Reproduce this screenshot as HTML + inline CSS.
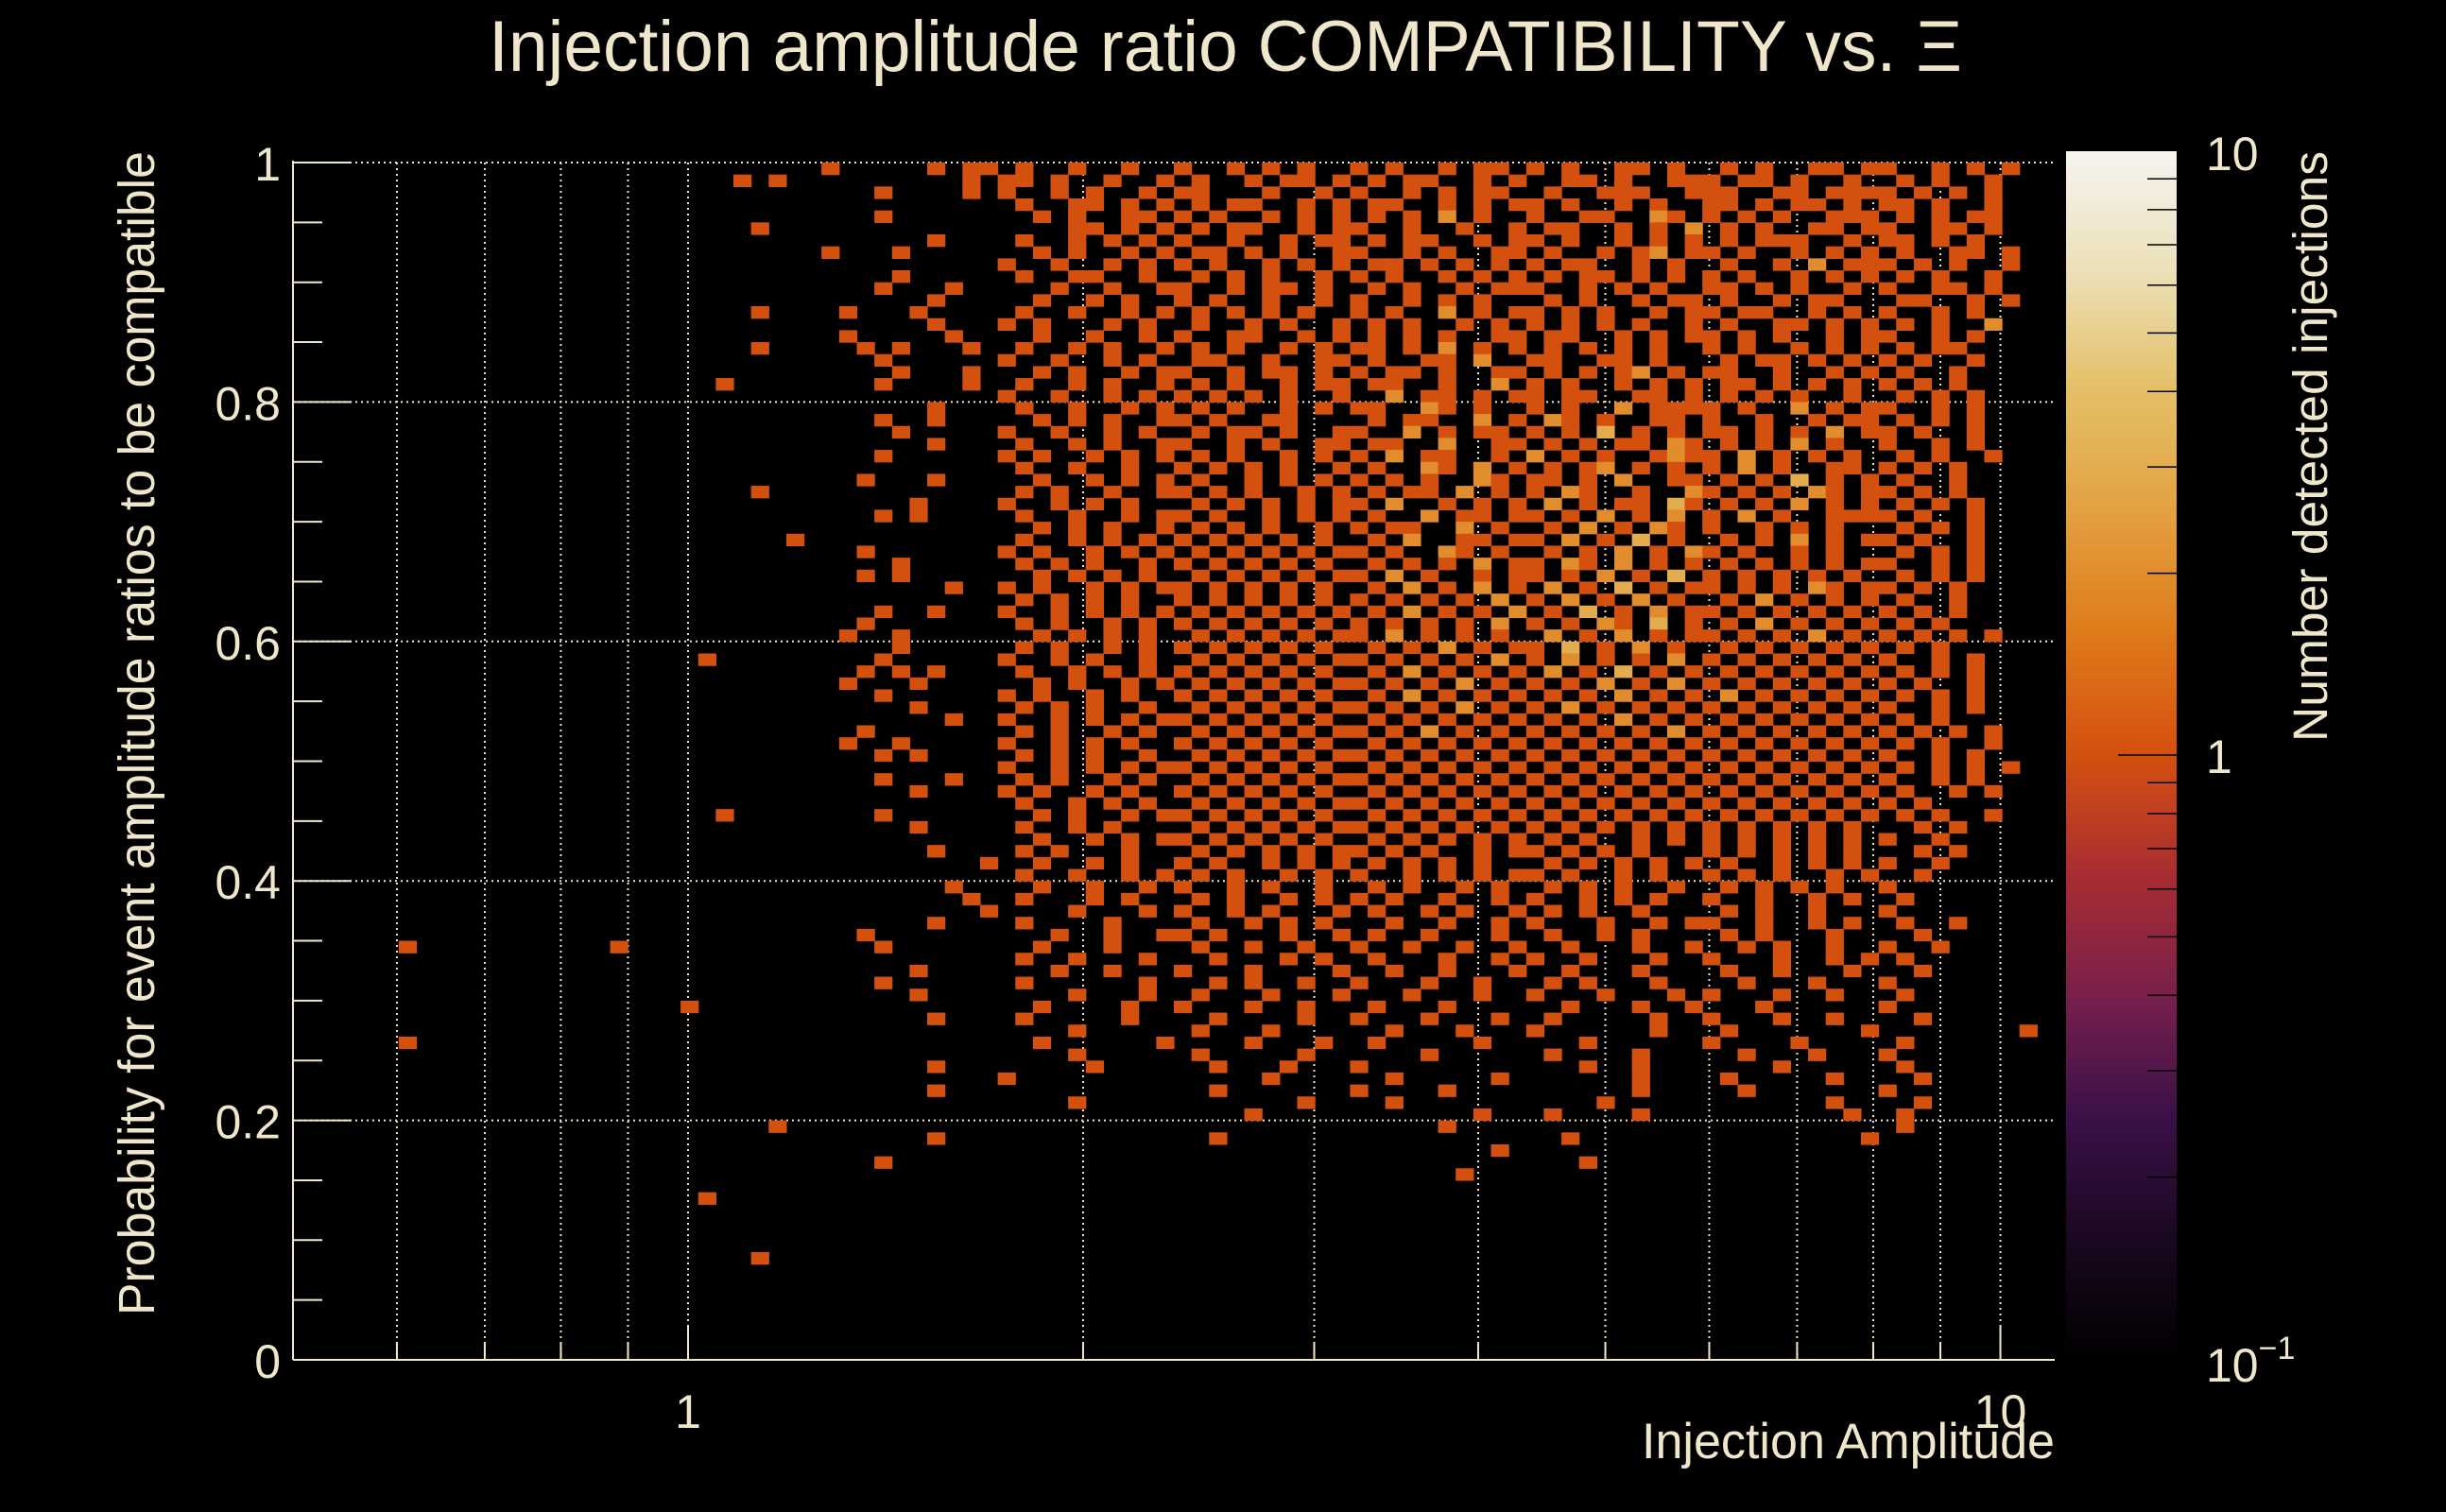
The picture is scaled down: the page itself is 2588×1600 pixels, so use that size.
<!DOCTYPE html>
<html><head><meta charset="utf-8"><style>
html,body{margin:0;padding:0;background:#000;}
svg{display:block;}
text{font-family:"Liberation Sans",sans-serif;fill:#f0e6cc;}
</style></head><body>
<svg id="chart" width="2588" height="1600" viewBox="0 0 2588 1600" xmlns="http://www.w3.org/2000/svg">
<rect width="2588" height="1600" fill="#000"/>
<text x="517" y="75" font-size="76" textLength="1559" lengthAdjust="spacingAndGlyphs">Injection amplitude ratio COMPATIBILITY vs.  Ξ</text>
<text transform="translate(163,1392) rotate(-90)" font-size="54" textLength="1232" lengthAdjust="spacingAndGlyphs">Probability for event amplitude ratios to be compatible</text>
<text x="2174" y="1543" font-size="53" text-anchor="end" textLength="437" lengthAdjust="spacingAndGlyphs">Injection Amplitude</text>
<text transform="translate(2462,785) rotate(-90)" font-size="51" textLength="625" lengthAdjust="spacingAndGlyphs">Number detected injections</text>
<g id="grid"></g>
<g id="cells"></g>
<g id="axes"></g>
<g id="cbar"></g>
</svg>
<script>
// ---- data ----
const xMin = 0.5, xMax = 11.0, nX = 100;
const yMin = 0, yMax = 1, nY = 100;
const zMin = 0.1, zMax = 10;
const yTicks = [0, 0.2, 0.4, 0.6, 0.8, 1];
const yTickLabels = ["0", "0.2", "0.4", "0.6", "0.8", "1"];
const xGrid = [0.6, 0.7, 0.8, 0.9, 1, 2, 3, 4, 5, 6, 7, 8, 9, 10];
const xTickLabels = [[1, "1"], [10, "10"]];
// counts per bin, rows from top (y=1) to bottom (y=0), columns from x=0.5 to 11 (log bins)
const rows = [
".......... .......... .......... 1.....1.11 .1..1..1.. 1..1.1.1.. 1.1..1.11. 1.1..11.1. .1.1..11.1 1..1.1.1..",
".......... .......... .....1.1.. ........1. 11.1..1..1 .1..1.11.1 .1.11..1.1 ..11.1..11 1.11.1..1. .1.1..1...",
".......... .......... .......... ...1....1. 1..1.1..1. 11...1..1. 1..1.1.11. .1..111..1 11..11.111 1.1.1.1...",
".......... .......... .......... .......... .1..11.1.1 .1.11..1.1 .11..1.1.1 1.1..1.1.. 11.1.11.1. 11.1..1...",
".......... .......... .......... ...1...... ..1.1..11. 1.1..1.1.1 .1.1.2.1.. 1..11..21. 1.1.1..111 .1.1.11...",
".......... .......... ......1... .......... ....11.1.1 .1.11..1.1 1..1..1..1 .11..1.1.2 .1.1..11.1 1..11.1...",
".......... .......... .......... ......1... .1..1.1.1. 1..1..1.11 .1.11..1.1 1.1..1.1.1 .1.111..1. 11.1.1....",
".......... .......... .......... 1...1..... ..1.1..1.1 .11.1.1..1 1..1.1..11 .1..1.12.1 1.1..1.1.1 .1..11.1..",
".......... .......... .......... .......... 1..1..1.1. 1.1..1.1.1 .11.1.1.1. 1.11..1.1. .1..1.2.11 1.1.1..1..",
".......... .......... .......... ....1..... .1..11..1. .1.1.1..1. 1.1..1.1.1 .1.11.1.1. 1.1..1.1.1 .1.1..1...",
".......... .......... .......... ...1...1.. ...1..1..1 1..1.11.1. .1.1..1.11 1..1.1.1.. 11.1.1..1. 1..11.1...",
".......... .......... .......... ......1... ..1..1.1.. 1.1..1..1. 1..1.1.1.. .1.1..1.11 .1..1.11.. .11..1.1..",
".......... .......... ......1... .1...1.... .1..1..1.1 .1.1.1.1.. 1.1..2.1.1 1.1.1..1.1 1.11..1.1. 1..1.1....",
".......... .......... .......... ......1... 1.1...1.1. .1..1.1..1 .1.1..1.1. 1.1.1.1..1 .1..11.1.1 .1.1..2...",
".......... .......... .......... .1.....1.. ..1..1..1. 1..11..1.1 .1.1.1..11 .11..1.1.1 1.1.1..1.1 1..1.1....",
".......... .......... ......1... ..1.1...1. .1..1.1..1 .1.1..1.1. 11.1.2.1.1 .1.1.1.1.. 1.1..1.1.1 .1.11.....",
".......... .......... .......... ...1...... 1..1..1.1. .11..1..11 .1..11.2.. 11..11.1.. .1.11.1.1. 1.1..1....",
".......... .......... .......... ....1...1. ..1.1..1.1 1..1.11.1. 1.11.1..11 .1.1.12.1. 11..1..1.1 .1..1.....",
".......... .......... ....1..... ...1....1. .1..1.1..1 .1.1..1.11 .11..1..2. 1.1..1.1.1 .11.1.1.1. 1.1.1.....",
".......... .......... .......... .......... 1..1..1.1. 1.1.1.1..1 ..2.11.1.1 1.11..11.1 .1.1.1..1. .1.1.1....",
".......... .......... .......... ......1... .1..1..1.1 .1.1..1.1. 11..21.1.. 1.1..2.111 1.1..2.1.1 1..1.1....",
".......... .......... .......... ...1..1... ..1.1.1..1 1.1..11... .1.11..2.1 .21.1..11. 1..1..1.11 .1.1.1....",
".......... .......... .......... ....1..... 1..1..1.1. .1.11.1..1 1..2.1.11. 1.1.3.1.1. 11.1.1.2.1 1.1..1....",
".......... .......... .......... ......1... .1..1.1..1 1..1.1..11 .11..2..11 .1.1.11.21 .1.1.2.1.. 1..1.1....",
".......... .......... .......... ...1...... 1.1..1.1.1 .1.1..1.1. 1.2.11..1. 2.1.1..121 1.2.1.1.1. .1.1..1...",
".......... .......... .......... .......... .1..1..1.. 1.1.1.1..1 .1..21.2.1 .1.12.1.1. 1.2.1..11. 1.1.1.....",
".......... .......... .......... ..1...1... ..1..1.1.1 .1..1.1.1. 1.1.1..21. 11.1.2..11 .1.1.3.1.1 .1..1.....",
".......... .......... ......1... .......... .1.1..1..1 1.1.1..1.1 .1.11.2.1. 1.21..1..2 1.1.1.21.1 1.1.1.....",
".......... .......... .......... .....1.... 1..1.1.1.. .1.1.1.1.1 1.2..1.1.1 .2.1.11.31 .1.1.2.1.1 .1.1.1....",
".......... .......... .......... ...1.1.... .1..1..1.1 1.1..1.1.1 .1..2.11.1 1.1.2.1.2. 1.2.1..111 1.1..1....",
".......... .......... .......... .......... ..1.1.1..1 .1.1.1..1. 1.11..2.1. .1.2.1.21. 1..1.1.1.. .1.1.1....",
".......... .......... ........1. .......... .1..1.1.1. 1.1.1.1.1. .1.2..11.1 1.2.1.3.1. .1.1.2.1.1 1.1..1....",
".......... .......... .......... ..1....... 1.1..1.1.1 .1.1.1.1.1 1.1..21.1. .1.1.2.1.2 1.1..1.1.. .1.1.1....",
".......... .......... .......... ....1..... .1.1.1..1. 1.1.1.1.1. .1.1.1.2.1 1.21.2.1.1 .1.1.1.1.1 1..1.1....",
".......... .......... .......... ..1.1..... ..1.1.1.1. .1.1.1.1.1 1.2.1..1.1 1.1.2.1.3. 1.1.1.1.1. .1.1.1....",
".......... .......... .......... .......1.. 1.1..1.1.1 1.1.1.1.1. .1.2.1.2.1 .2.1.3.1.1 1.1.1.21.1 1.1.1.....",
".......... .......... .......... .......... .1.1.1.1.. 1.1.1.1.1. 1.1.1.1.2. 1.2.1.2.1. .1.2.1.1.1 .1..1.....",
".......... .......... .......... ...1..1... 1..1.1.1.1 .1.1.1.1.1 .1.2.1.1.2 .1.3.1.2.1 1.1.1.1.1. 1.1.1.....",
".......... .......... .......... ..1....... .1.1..1.1. 1.1.1.1.1. 1.1.1.1.2. 1.1.21.3.1 .1.2.1.1.1 .1.1......",
".......... .......... .......... .1..1..... ..1.1.1.1. .1.1.1.1.1 1.2.1.1.1. .2.1.2.1.1 1.1.1.2.1. 1.1.1.1...",
".......... .......... .......... ....1..... .1.1..1.1. 1.1.1.1.1. .1.1.2.1.1 1.3.1.2.1. .1.1.1.1.1 .1.1......",
".......... .......... ...1...... ...1...... 1..1.1..1. .1.1.1.1.1 1.1.1.1.2. 1.2.1.1.2. 1.1.1.1.1. 1..1.1....",
".......... .......... .......... ..1.1.1... .1..1.1.1. 1.1.1.1.1. .1.2.1.1.1 .2.1.3.1.1 .1.1.1.1.1 .1.1.1....",
".......... .......... .......... .1...1.... ..1.1..1.1 .1.1.1.1.1 1.1.1.2.1. 1.1.2.1.2. 1.1.1.1.1. 1.1..1....",
".......... .......... .......... ...1...... 1.1..1.1.. 1.1.1.1.1. .1.2.1.1.1 .1.1.2.1.1 .2.1.1.1.1 .1.1.1....",
".......... .......... .......... .....1.... .1.1.1..1. .1.1.1.1.1 1.1.1.2.1. 1.2.1.1.1. 1.1.1.1.1. 1..1.1....",
".......... .......... .......... .......1.. 1..1.1.1.1 1.1.1.1.1. .1.1.1.1.1 .1.1.2.1.1 .1.1.1.1.1 .1.1......",
".......... .......... .......... ..1....... .1.1..1.1. .1.1.1.1.1 1.1.2.1.1. 1.1.1.1.2. 1.1.1.1.1. 1.1.1.1...",
".......... .......... .......... .1..1..... 1..1.1.1.. 1.1.1.1.1. .1.1.1.1.1 .1.1.1.1.1 .1.1.1.1.1 .1.1..1...",
".......... .......... .......... ...1.1.... .1.1.1..1. .1.1.1.1.1 1.1.1.1.1. 1.1.1.1.1. 1.1.1.1.1. 1..1.1....",
".......... .......... .......... .......... 1..1.1.1.1 1.1.1.1.1. .1.1.1.1.1 .1.1.1.1.1 .1.1.1.1.1 .1.1.1.1..",
".......... .......... .......... ...1...1.. .1.1..1.1. .1.1.1.1.1 1.1.1.1.1. 1.1.1.1.1. 1.1.1.1.1. 1..1.1....",
".......... .......... .......... .....1.... 1.1..1.1.. 1.1.1.1.1. .1.1.1.1.1 .1.1.1.1.1 .1.1.1.1.1 .1..1.1...",
".......... .......... .......... .......... .1..1.1.1. .1.1.1.1.1 1.1.1.1.1. 1.1.1.1.1. 1.1.1.1.1. 1.1.......",
".......... .......... ....1..... ...1...... ..1.1..1.1 1.1.1.1.1. .1.1.1.1.1 .1.1.1.1.1 .1.1.1.1.1 .1.1..1...",
".......... .......... .......... .....1.... .1..1.1... .1.1.1.1.1 1.1.1.1.1. 1.1.1.1.1. 1.1.1.1.1. ..1.1.....",
".......... .......... .......... .......... ..1..1.1.1 1.1.1.1.1. .1.1.1.1.1 .1.1..1.1. 1.1.1.1.1. 1..1......",
".......... .......... .......... ......1... .1.1...1.. .1.1.1.1.1 1.1.1..1.1 1.1.1.1... 1.1.1.1.1. ..1.1.....",
".......... .......... .......... .........1 ..1..1.1.. 1.1..1.1.1 .1.1.1.1.. .1.1.1.1.1 .1..1.1.1. 1..1......",
".......... .......... .......... .......... .1..1..1.1 .1.1..1.1. 1..1.1.1.1 1.1..1.1.. 1.1.1..1.1 ..1.......",
".......... .......... .......... .......1.. ..1..1..1. 1..1.1..1. .1.1..1.1. .1.1.1..1. .1.1.1.1.. 1.........",
".......... .......... .......... ........1. .1...1.1.. .1.1..1.1. 1.1..1..1. 1..1.1.1.. 1..1..1.1. .1........",
".......... .......... .......... .........1 ....1...1. 1..1.1...1 .1..1.1..1 .1.1..1... .1.1..1... 1.........",
".......... .......... .......... ......1... .1....1... .1..1.1.1. ..1..1..1. 1...1..1.1 1..1..1.1. .1..1.....",
".......... .......... .......... ..1....... ...1..1..1 1.1...1..1 .1..1...1. .1..1.1... .1.1...1.. ..1.......",
"......1... ........1. .......... ...1...... ..1...1... .1..1..1.. 1..1..1..1 ..1...1..1 ..1.1..1.. 1..1......",
".......... .......... .......... .......... .1..1...1. ..1...1.1. .1...1..1. 1..1...1.. 1...1..1.1 .1........",
".......... .......... .......... .....1.... ...1..1... 1...1....1 ..1..1...1 ..1...1... .1..1...1. ..1.......",
".......... .......... .......... ...1...... .1......1. ..1.1..1.. 1...1..1.. .1.1...1.. ..1...1... 1.........",
".......... .......... .......... .....1.... ....1...1. .1...1...1 ...1...1.. 1...1...1. 1...1..1.. .1........",
".......... .......... ..1....... .......... ..1....1.. 1...1..1.. .1...1.... ..1...1..1 ...1...... 1.........",
".......... .......... .......... ......1... .1.....1.. ..1....1.. 1...1...1. .1.....1.. 1...1..1.. ..1.......",
".......... .......... .......... .......... ....1..... .1...1.... ..1...1... 1......1.. .1.......1 ........1.",
"......1... .......... .......... .......... ..1......1 ....1...1. .1.....1.. ...1...... 1....1.... .1........",
".......... .......... .......... .......... ....1..... .1.....1.. ....1..... .1....1... ..1...1... 1.........",
".......... .......... .......... ......1... .....1.... ..1...1... 1......... ...1..1... ....1..... .1........",
".......... .......... .......... .......... 1......... .....1.... ..1.....1. ......1... .1.....1.. ..1.......",
".......... .......... .......... ......1... .......... ..1....... 1....1.... ......1... ..1....... 1.........",
".......... .......... .......... .......... ....1..... .......1.. ..1....... ....1..... .......1.. ..1.......",
".......... .......... .......... .......... .......... ....1..... .......1.. .1....1... ........1. .1........",
".......... .......... .......1.. .......... .......... .......... .....1.... .......... .......... .1........",
".......... .......... .......... ......1... .......... ..1....... .......... ..1....... .........1 ..........",
".......... .......... .......... .......... .......... .......... ........1. .......... .......... ..........",
".......... .......... .......... ...1...... .......... .......... .......... ...1...... .......... ..........",
".......... .......... .......... .......... .......... .......... ......1... .......... .......... ..........",
".......... .......... .......... .......... .......... .......... .......... .......... .......... ..........",
".......... .......... ...1...... .......... .......... .......... .......... .......... .......... ..........",
".......... .......... .......... .......... .......... .......... .......... .......... .......... ..........",
".......... .......... .......... .......... .......... .......... .......... .......... .......... ..........",
".......... .......... .......... .......... .......... .......... .......... .......... .......... ..........",
".......... .......... .......... .......... .......... .......... .......... .......... .......... ..........",
".......... .......... ......1... .......... .......... .......... .......... .......... .......... ..........",
".......... .......... .......... .......... .......... .......... .......... .......... .......... ..........",
".......... .......... .......... .......... .......... .......... .......... .......... .......... ..........",
".......... .......... .......... .......... .......... .......... .......... .......... .......... ..........",
".......... .......... .......... .......... .......... .......... .......... .......... .......... ..........",
".......... .......... .......... .......... .......... .......... .......... .......... .......... ..........",
".......... .......... .......... .......... .......... .......... .......... .......... .......... ..........",
".......... .......... .......... .......... .......... .......... .......... .......... .......... .........."
];

// ---- layout ----
const PL = 310, PR = 2174, PT = 172, PB = 1439;
const CBL = 2186, CBR = 2303, CBT = 160, CBB = 1438;
const NS = "http://www.w3.org/2000/svg";
const TXT = "#f0e6cc";
function xPos(v){ return PL + (Math.log(v) - Math.log(xMin)) / (Math.log(xMax) - Math.log(xMin)) * (PR - PL); }
function yPos(v){ return PB - (v - yMin) / (yMax - yMin) * (PB - PT); }
function zT(z){ return (Math.log10(z) - Math.log10(zMin)) / (Math.log10(zMax) - Math.log10(zMin)); }
function zPos(z){ return CBB - zT(z) * (CBB - CBT); }
const stops = [[0,[0,0,0]],[0.1,[26,8,32]],[0.2,[58,16,72]],[0.3,[120,32,76]],[0.4,[168,44,50]],[0.5,[212,80,15]],[0.6,[223,122,26]],[0.7,[227,160,64]],[0.8,[228,191,101]],[0.9,[236,224,184]],[1,[246,244,240]]];
function pal(t){
  t = Math.max(0, Math.min(1, t));
  for (let i = 1; i < stops.length; i++) {
    if (t <= stops[i][0]) {
      const a = stops[i-1], b = stops[i], f = (t - a[0]) / (b[0] - a[0]);
      const c = a[1].map((v, k) => Math.round(v + (b[1][k] - v) * f));
      return "rgb(" + c.join(",") + ")";
    }
  }
  return "rgb(246,244,240)";
}
function mk(tag, attrs, parent){
  const e = document.createElementNS(NS, tag);
  for (const k in attrs) e.setAttribute(k, attrs[k]);
  parent.appendChild(e);
  return e;
}
const grid = document.getElementById("grid");
const cells = document.getElementById("cells");
const axes = document.getElementById("axes");
const cbar = document.getElementById("cbar");

xGrid.forEach(v => {
  const l = mk("line", {x1: xPos(v), x2: xPos(v), y1: PT, y2: PB, stroke: TXT, "stroke-width": 2, "stroke-dasharray": "2,4"}, grid);
  
  
});
yTicks.forEach(v => {
  if (v === 0) return;
  const l = mk("line", {x1: PL, x2: PR, y1: yPos(v), y2: yPos(v), stroke: TXT, "stroke-width": 2, "stroke-dasharray": "2,4"}, grid);
  
  
});

const lx0 = Math.log(xMin), lx1 = Math.log(xMax);
rows.forEach((rs, r) => {
  const s = rs.replace(/ /g, "");
  for (let c = 0; c < s.length; c++) {
    const ch = s[c];
    if (ch === ".") continue;
    const n = parseInt(ch, 10);
    const xa = Math.exp(lx0 + (lx1 - lx0) * c / nX), xb = Math.exp(lx0 + (lx1 - lx0) * (c + 1) / nX);
    const ya = yMax - (r + 1) * (yMax - yMin) / nY, yb = yMax - r * (yMax - yMin) / nY;
    const x1 = xPos(xa), x2 = xPos(xb), y1 = yPos(yb), y2 = yPos(ya);
    const rc = mk("rect", {x: x1, y: y1, width: x2 - x1 + 0.6, height: y2 - y1 + 0.6, fill: pal(zT(n))}, cells);
    
    
  }
});

const ax1 = mk("line", {x1: PL, x2: PL, y1: PT - 2, y2: PB, stroke: TXT, "stroke-width": 2}, axes);


const ax2 = mk("line", {x1: PL, x2: PR, y1: PB, y2: PB, stroke: TXT, "stroke-width": 2}, axes);


for (let i = 0; i <= 20; i++) {
  const v = i * 0.05, major = (i % 4 === 0);
  const t = mk("line", {x1: PL, x2: PL + (major ? 62 : 31), y1: yPos(v), y2: yPos(v), stroke: TXT, "stroke-width": 2}, axes);
  
  
}
yTicks.forEach((v, i) => {
  const t = mk("text", {x: 297, y: yPos(v) + 19, "font-size": 50, "text-anchor": "end"}, axes);
  t.textContent = yTickLabels[i];
  
  
});
xGrid.forEach(v => {
  const major = (v === 1 || v === 10);
  const t = mk("line", {x1: xPos(v), x2: xPos(v), y1: PB, y2: PB - (major ? 35 : 18), stroke: TXT, "stroke-width": 2}, axes);
  
  
});
xTickLabels.forEach(p => {
  const t = mk("text", {x: xPos(p[0]), y: 1511, "font-size": 50, "text-anchor": "middle"}, axes);
  t.textContent = p[1];
  
  
});

const defs = mk("defs", {}, cbar);
const grad = mk("linearGradient", {id: "cbg", x1: 0, y1: 1, x2: 0, y2: 0}, defs);
for (let i = 0; i <= 20; i++) mk("stop", {offset: i / 20, "stop-color": pal(i / 20)}, grad);
const cb = mk("rect", {x: CBL, y: CBT, width: CBR - CBL, height: CBB - CBT, fill: "url(#cbg)"}, cbar);


[0.1, 1].forEach(dec => {
  for (let m = 1; m <= 9; m++) {
    const z = dec * m;
    if (z <= zMin || z >= zMax) continue;
    const y = zPos(z);
    const t = mk("line", {x1: CBR - (m === 1 ? 62 : 31), x2: CBR, y1: y, y2: y, stroke: "#000", "stroke-width": 1.5}, cbar);
    
    
  }
});
const l10 = mk("text", {x: 2334, y: zPos(10) + 20, "font-size": 50}, cbar);
l10.textContent = "10";


const l1 = mk("text", {x: 2334, y: zPos(1) + 19, "font-size": 50}, cbar);
l1.textContent = "1";


const l01 = mk("text", {x: 2334, y: 1462, "font-size": 50}, cbar);
l01.textContent = "10";
const sup = mk("tspan", {dy: -24, "font-size": 34}, l01);
sup.textContent = "−1";


</script>
</body></html>
